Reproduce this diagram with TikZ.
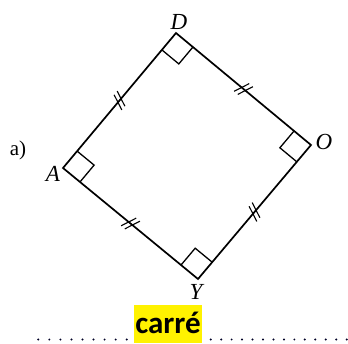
\documentclass[tikz,border=0pt]{standalone}
\usepackage{fontspec}
\setmainfont{Liberation Serif}
\newfontfamily\carlito{Carlito}
\usetikzlibrary{calc}
\newcommand\dticks[4]{%
  \coordinate (m) at ($(#1)!0.5!(#2)$);
  \foreach \s in {-2.4,2.4}{
    \draw[tickmark] ($(m)!\s pt!(#2)$) ++(#3:8.5) -- ++(#4:17);
  }
}
\newcommand\ramark[3]{%
  \coordinate (p1) at ($(#1)!22pt!(#2)$);
  \coordinate (p2) at ($(#1)!22pt!(#3)$);
  \draw[rightmark] (p1) -- ($(p1)+(p2)-(#1)$) -- (p2);
}
\begin{document}
\begin{tikzpicture}[x=1pt,y=-1pt,
  side/.style={line width=1.7pt, line join=miter},
  rightmark/.style={line width=1.3pt},
  tickmark/.style={line width=1.1pt},
  vlabel/.style={font=\fontsize{23}{26}\selectfont\itshape, inner sep=0pt},
  dotmark/.style={fill=black!85!blue},
]
\useasboundingbox (0,0) rectangle (348,343);
\fill[white] (0,0) rectangle (348,343);
\coordinate (D) at (176,33);
\coordinate (O) at (311,145);
\coordinate (Y) at (198,279);
\coordinate (A) at (63,168);
\draw[side] (D) -- (O) -- (Y) -- (A) -- cycle;
\ramark{D}{A}{O}
\ramark{O}{D}{Y}
\ramark{Y}{O}{A}
\ramark{A}{Y}{D}
\dticks{D}{A}{63}{243}
\dticks{D}{O}{-27}{153}
\dticks{A}{Y}{-27}{153}
\dticks{O}{Y}{63}{243}
\node[vlabel] (lD) at (179,22) {D};
\node[vlabel] (lO) at (324,142) {O};
\node[vlabel] (lA) at (53,174) {A};
\node[vlabel] (lY) at (196,292) {Y};
\node[font=\fontsize{21}{24}\selectfont, inner sep=0pt] (la) at (18,150) {a)};
\fill[yellow] (134,305) rectangle (202,343);
\node[anchor=base, inner sep=0pt, font=\carlito\bfseries\fontsize{31}{36}\selectfont] (carre) at (168,333) {carré};
\foreach \i in {0,...,8} \fill[dotmark] (38.3+11.05*\i,339.5) circle (1.1);
\foreach \i in {0,...,13} \fill[dotmark] (210.7+10.46*\i,339.5) circle (1.1);
\end{tikzpicture}
\end{document}
